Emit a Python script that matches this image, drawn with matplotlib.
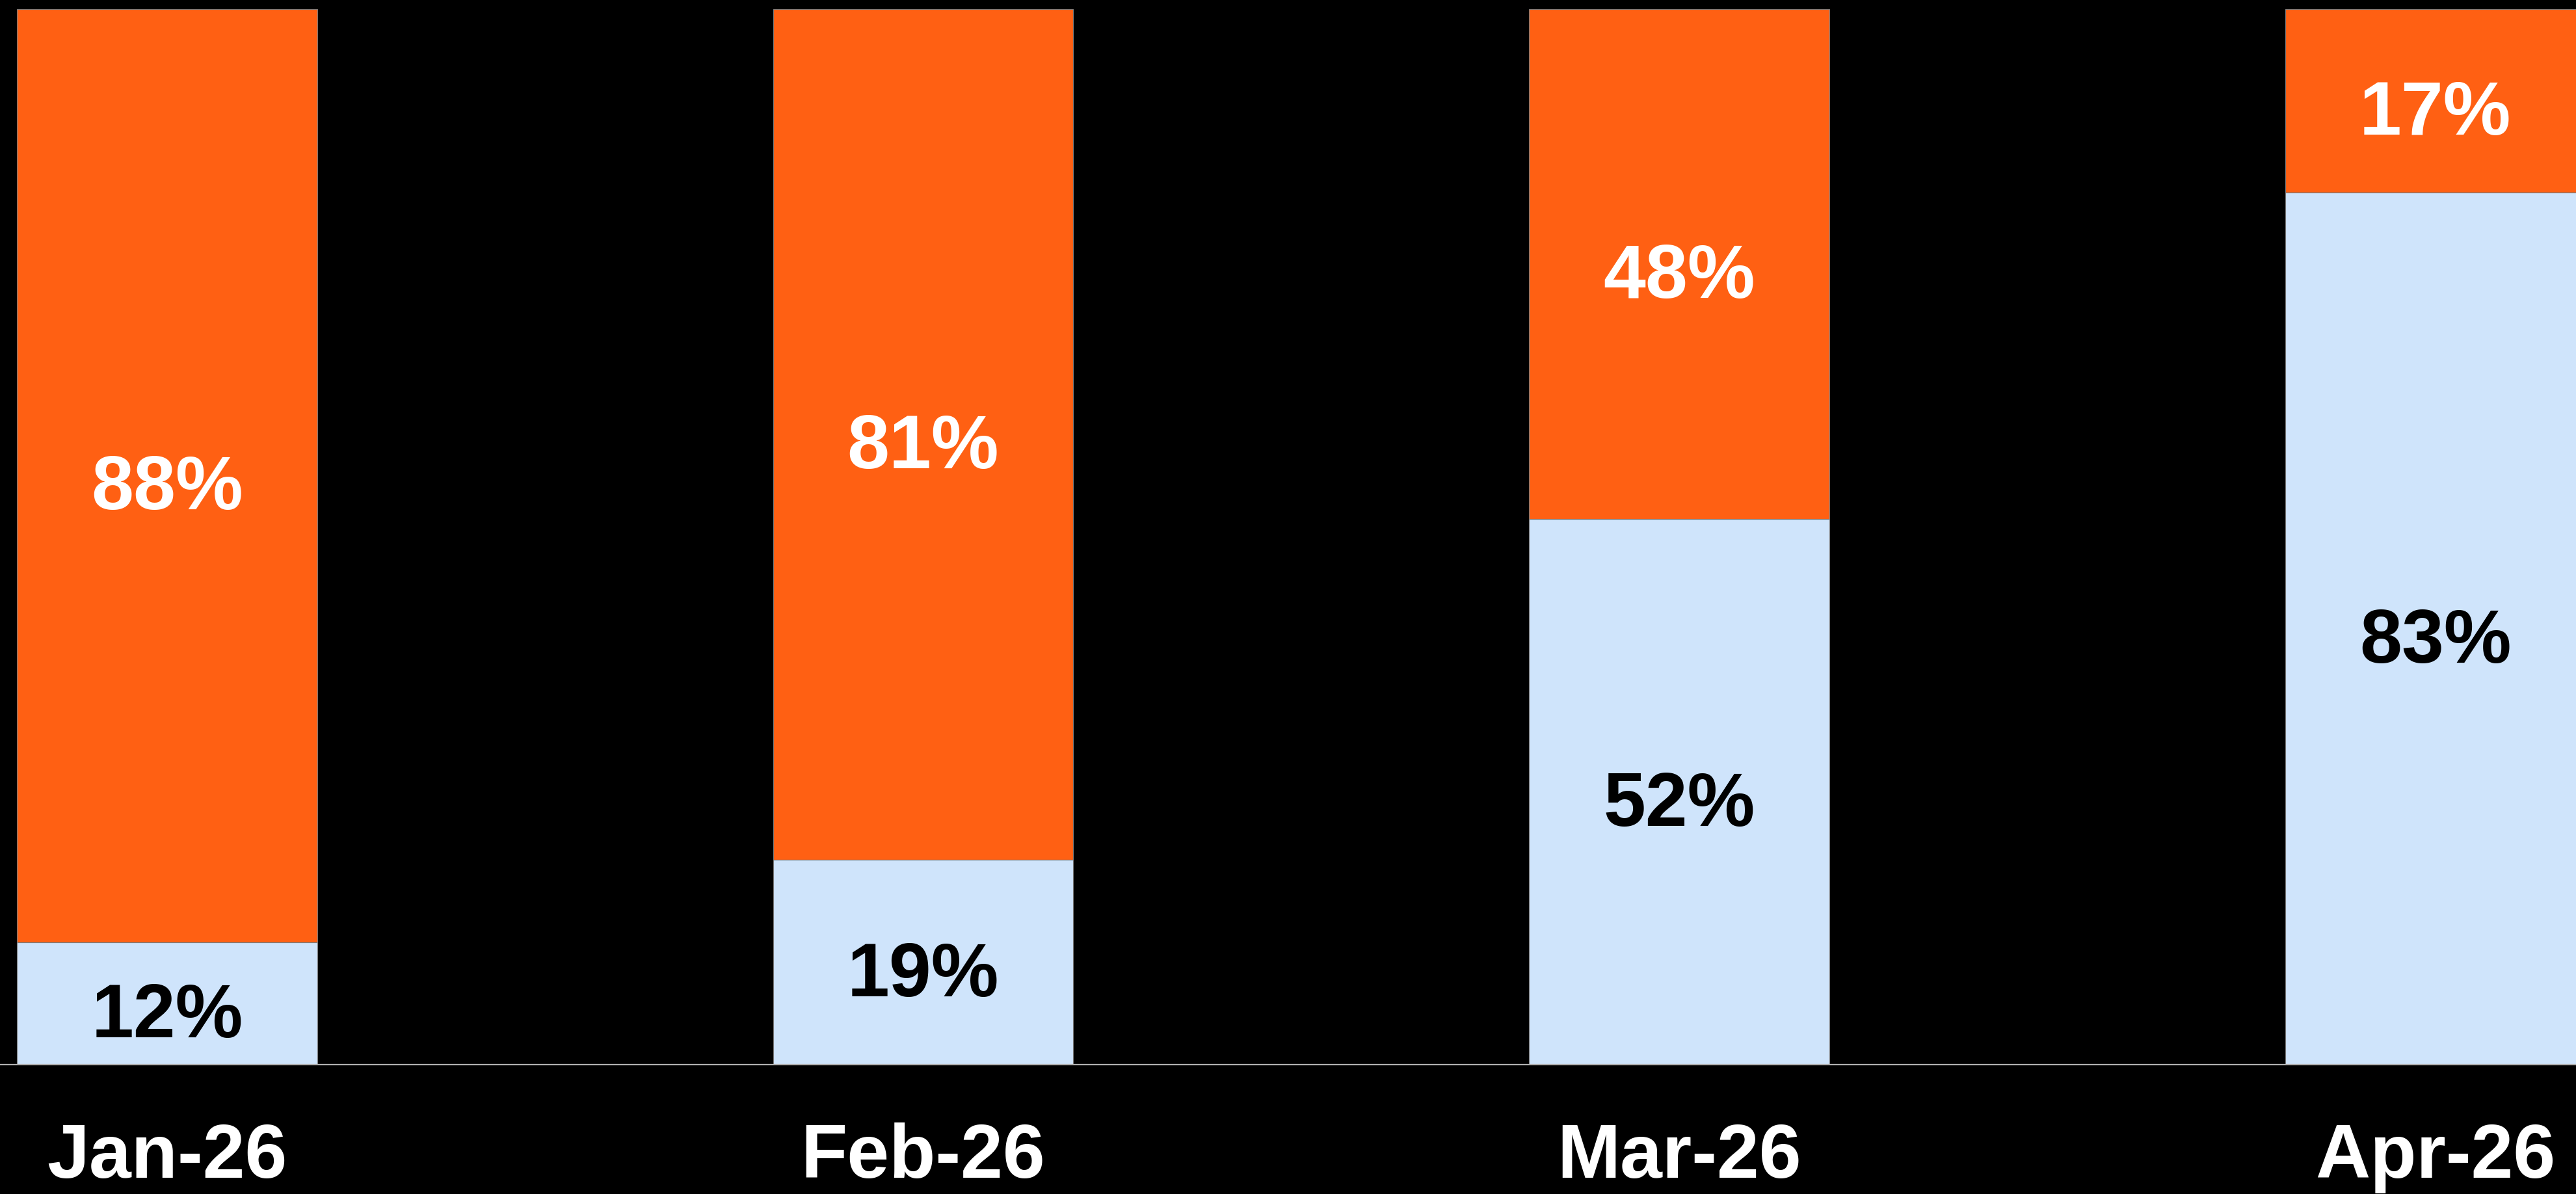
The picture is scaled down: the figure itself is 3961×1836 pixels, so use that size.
import matplotlib.pyplot as plt

# Monthly split (percent), bottom series in light blue, top series in orange
months = ['Jan-26', 'Feb-26', 'Mar-26', 'Apr-26']
blue_share = [11.6, 19.4, 51.7, 82.6]
orange_share = [88.4, 80.6, 48.3, 17.4]

BLUE = '#CFE4FB'
ORANGE = '#FF6013'

plt.rcParams['font.family'] = ['Liberation Sans', 'DejaVu Sans']

fig = plt.figure(figsize=(39.61, 18.36), dpi=100, facecolor='black')
ax = fig.add_axes([0, 0.1084, 1, 0.8841])
ax.set_facecolor('black')

x = list(range(len(months)))
width = 0.397

ax.bar(x, blue_share, width, color=BLUE, edgecolor='#7a7a7a', linewidth=0.8, zorder=2)
ax.bar(x, orange_share, width, bottom=blue_share, color=ORANGE,
       edgecolor='#7a7a7a', linewidth=0.8, zorder=2)

# value labels in the middle of each segment
for i in x:
    ax.annotate(f'{blue_share[i]:.0f}%', (i, blue_share[i] / 2), xytext=(0, -7),
                textcoords='offset points', ha='center', va='center_baseline',
                fontsize=84, fontweight='bold', color='black', zorder=3)
    ax.annotate(f'{orange_share[i]:.0f}%', (i, blue_share[i] + orange_share[i] / 2), xytext=(0, -7),
                textcoords='offset points', ha='center', va='center_baseline',
                fontsize=84, fontweight='bold', color='white', zorder=3)

ax.axhline(0, color='#b0b0b0', linewidth=1.6, zorder=3, clip_on=False)

ax.set_xlim(-0.221, 3.186)
ax.set_ylim(0, 100)
ax.set_xticks(x)
ax.set_xticklabels(months, fontsize=84, fontweight='bold', color='white')
ax.tick_params(axis='x', length=0, pad=64)
ax.set_yticks([])
for s in ax.spines.values():
    s.set_visible(False)

fig.savefig('out.png', dpi=100, facecolor='black')
